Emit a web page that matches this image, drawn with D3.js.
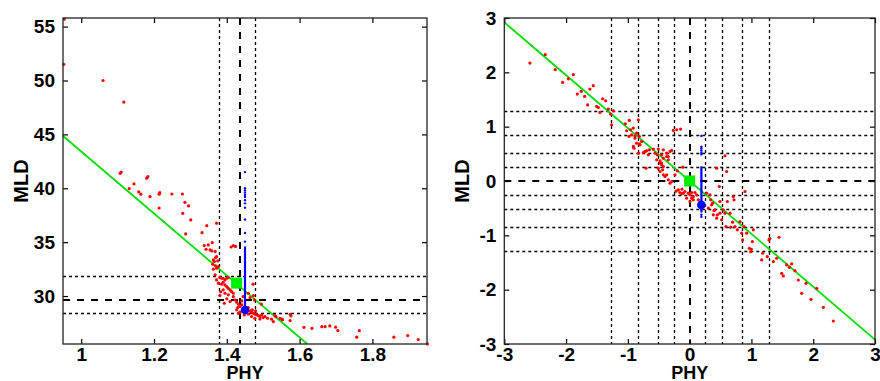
<!DOCTYPE html>
<html>
<head>
<meta charset="utf-8">
<script src="https://cdn.jsdelivr.net/npm/d3@7"></script>
<style>
  body { margin: 0; background: #fff; }
  svg text { font-family: "Liberation Sans", Arial, sans-serif; font-weight: bold; }
</style>
</head>
<body>
<div id="chart"></div>
<script>
// ---- left panel data (raw units) ----
var leftXTicks = [1, 1.2, 1.4, 1.6, 1.8];
var leftYTicks = [30, 35, 40, 45, 50, 55];
var leftPoints = [
  [0.954,55.7],[0.952,51.5],[1.06,50.0],[1.117,48.0],
  [1.107,41.39],[1.110,41.51],[1.145,40.40],[1.132,39.97],[1.158,39.66],[1.164,39.45],[1.180,40.93],[1.183,41.08],
  [1.189,39.22],[1.214,39.45],[1.216,39.59],[1.249,39.47],[1.278,39.47],[1.285,38.70],[1.295,38.36],[1.214,38.17],
  [1.279,37.68],[1.301,37.06],[1.287,35.76],[1.332,35.88],[1.345,36.53],[1.372,36.76],[1.338,34.68],[1.349,34.74],
  [1.360,34.96],[1.359,34.19],[1.343,34.34],[1.412,34.55],[1.418,34.68],[1.424,34.6],
  [1.354,34.28],[1.368,34.13],[1.369,33.57],[1.372,33.66],[1.363,33.35],[1.366,33.2],[1.375,33.26],[1.361,32.95],
  [1.369,32.8],[1.372,32.58],[1.377,32.73],[1.363,32.49],
  [1.368,31.96],[1.372,31.5],[1.381,31.71],[1.386,31.65],[1.390,31.65],[1.395,31.5],[1.400,31.65],[1.404,31.71],
  [1.377,31.19],[1.386,31.1],[1.390,31.28],[1.395,31.03],[1.400,30.88],[1.404,30.72],[1.409,30.57],[1.413,30.42],
  [1.418,30.26],[1.390,30.57],[1.395,30.26],[1.404,30.11],[1.400,29.74],[1.381,30.04],[1.393,29.33],[1.409,29.49],
  [1.418,29.95],[1.423,29.64],[1.427,29.43],[1.432,29.24],[1.430,28.93],[1.436,29.02],[1.441,29.18],[1.427,28.72],
  [1.432,28.41],[1.436,28.5],[1.459,30.26],[1.464,29.86],[1.473,30.04],[1.476,29.64],[1.459,28.93],[1.464,28.62],
  [1.468,28.5],[1.473,28.41],[1.477,28.31],[1.482,28.25],[1.487,28.19],[1.491,28.1],[1.496,28.25],[1.500,28.0],
  [1.505,28.1],[1.470,28.72],[1.479,28.62],[1.512,27.94],[1.532,28.19],[1.528,27.63],[1.546,27.94],[1.553,27.79],
  [1.574,28.31],[1.477,27.94],[1.468,28.1],[1.459,28.31],[1.491,27.88],[1.441,29.55],[1.445,29.95],[1.448,28.25],
  [1.383,30.4],[1.472,31.1],[1.495,29.26],
  [1.523,27.85],[1.535,28.09],[1.552,27.85],[1.574,27.72],[1.576,28.16],[1.612,27.1],[1.634,27.0],
  [1.661,27.16],[1.670,27.16],[1.683,27.23],[1.699,27.11],[1.705,26.79],[1.757,26.18],[1.764,26.79],[1.859,26.18],
  [1.897,26.33],[1.926,25.96],[1.951,25.56]
];
var leftDotted = {v: [1.379, 1.477], h: [31.9, 28.41]};
var leftDashed = {v: [1.436], h: [29.64]};
var leftFit = [[0.95, 44.85], [1.621, 25.55]];
var leftCentre = [1.427, 31.2];
var leftBlueX = 1.45;
var leftBlueDots = [41.5, 40.0, 39.8, 39.6, 39.4, 39.2, 38.9, 38.6, 38.2, 37.1, 35.85, 35.05];
var leftBlueRun = [34.6, 28.71];
var leftBlueEnd = 28.71;

// ---- right panel data (normal scores) ----
var rightTicks = [-3, -2, -1, 0, 1, 2, 3];
var rightPoints = [
  [-2.585,2.17],[-2.337,2.325],[-2.175,2.05],[-2.056,1.815],[-1.964,1.88],[-1.883,1.956],[-1.819,1.60],[-1.754,1.65],
  [-1.70,1.557],[-1.651,1.40],[-1.614,1.692],[-1.56,1.754],[-1.506,1.373],[-1.479,1.354],[-1.452,1.262],[-1.408,1.514],
  [-1.36,1.477],[-1.317,1.324],[-1.279,1.232],[-1.236,1.293],[-1.263,1.035],[-1.042,1.054],[-0.977,1.115],[-1.02,0.925],
  [-0.955,0.943],[-0.912,0.974],[-0.982,0.82],[-0.939,0.851],[-0.885,0.832],[-0.858,0.881],[-0.831,1.127],[-0.815,0.82],
  [-0.901,0.605],[-0.858,0.697],[-0.815,0.685],[-0.777,0.728],[-0.826,0.513],[-0.75,0.525],[-0.696,0.556],[-0.653,0.574],
  [-0.588,0.587],[-0.561,0.513],[-0.523,0.482],[-0.507,0.587],[-0.534,0.39],[-0.48,0.372],[-0.453,0.329],[-0.426,0.574],
  [-0.372,0.513],[-0.318,0.544],[-0.291,0.562],[-0.345,0.451],[-0.707,0.236],[-0.507,0.236],[-0.48,0.175],[-0.437,0.206],
  [-0.399,0.083],[-0.264,0.931],[-0.21,0.943],[-0.146,0.955],[-0.20,0.187],[-0.113,0.255],[-0.237,0.113],
  [-0.885,0.789],[-0.912,0.636],[-0.804,0.666],[-0.723,0.544],[-0.669,0.482],[-0.453,0.482],[-0.426,0.421],[-0.372,0.451],
  [-0.345,0.39],[-0.48,0.329],[-0.453,0.298],[-0.426,0.267],[-0.372,0.114],[-0.426,0.114],[-0.345,0.021],[-0.318,-0.04],
  [-0.291,-0.009],
  [-0.221,-0.187],[-0.124,-0.15],[-0.103,-0.224],[-0.076,-0.193],[-0.022,-0.224],[0.005,-0.255],[0.032,-0.212],
  [0.059,-0.286],[0.086,-0.212],[0.113,-0.255],[0.14,-0.347],[0.156,-0.47],[-0.183,-0.163],[-0.157,-0.212],[-0.13,-0.236],
  [0.032,-0.316],[0.059,-0.347],[-0.049,-0.316],[0.005,-0.378],
  [0.275,-0.224],[0.302,-0.5],[0.34,-0.347],[0.372,-0.408],[0.394,-0.543],[0.437,0.236],[0.48,-0.101],[0.491,-0.377],
  [0.448,-0.623],[0.518,-0.715],[0.545,-0.531],[0.572,0.464],[0.599,0.175],[0.572,-0.592],[0.61,-0.377],[0.653,-0.592],
  [0.588,-0.838],[0.664,-0.85],[0.707,-0.286],[0.718,-0.347],[0.696,-0.758],[0.734,-0.838],[0.772,-0.899],[0.815,-0.746],
  [0.842,-0.961],[0.858,-1.084],[0.896,-0.193],[0.88,-0.838],[0.923,-0.961],[0.966,-1.238],[0.988,-1.30],[1.015,-1.115],
  [1.031,-0.899],[0.998,-1.256],[0.329,-0.255],[0.356,-0.439],[0.41,-0.531],[0.383,-0.623],[0.437,-0.685],[0.491,-0.592],
  [1.284,-1.084],[1.298,-1.06],[1.182,-1.33],[1.257,-1.391],[1.166,-1.453],[1.355,-1.483],[1.408,-1.422],[1.446,-1.035],
  [1.489,-1.699],[1.516,-1.748],[1.57,-1.545],[1.614,-1.588],[1.651,-1.527],[1.705,-1.65],[1.759,-1.822],[1.813,-2.067],
  [1.883,-1.883],[1.964,-2.178],[2.056,-1.975],[2.164,-2.325],[2.326,-2.577]
];
var rightDotted = [-1.28, -0.84, -0.52, -0.255, 0.255, 0.52, 0.84, 1.28];
var rightDashed = [0];
var rightFit = [[-3, 2.92], [3, -2.92]];
var rightCentre = [0, 0];
var rightBlueX = 0.19;
var rightBlueDots = [0.83, 0.63, 0.6, 0.56, 0.52, 0.49, -0.62, -0.66];
var rightBlueRun = [0.27, -0.58];
var rightBlueEnd = -0.44;

var width = 880, height = 381;

var svg = d3.select("#chart").append("svg")
    .attr("width", width)
    .attr("height", height);

// snap a coordinate to a pixel centre so 1px rules stay crisp
function px(v) { return Math.round(v) + 0.5; }

function drawPanel(cfg) {
    var x = d3.scaleLinear().domain(cfg.xDomain).range([cfg.left, cfg.right]);
    var y = d3.scaleLinear().domain(cfg.yDomain).range([cfg.bottom, cfg.top]);
    var g = svg.append("g");

    var clipId = "clip" + cfg.id;
    g.append("clipPath").attr("id", clipId)
        .append("rect")
        .attr("x", cfg.left).attr("y", cfg.top)
        .attr("width", cfg.right - cfg.left).attr("height", cfg.bottom - cfg.top);

    var inner = g.append("g").attr("clip-path", "url(#" + clipId + ")");

    // reference lines (dotted = quantiles, dashed = centre)
    cfg.vDotted.forEach(function(v) {
        inner.append("line")
            .attr("x1", px(x(v))).attr("x2", px(x(v)))
            .attr("y1", cfg.top).attr("y2", cfg.bottom)
            .attr("stroke", "#000").attr("stroke-width", 1.3)
            .attr("stroke-dasharray", "3,3");
    });
    cfg.hDotted.forEach(function(v) {
        inner.append("line")
            .attr("x1", cfg.left).attr("x2", cfg.right)
            .attr("y1", px(y(v))).attr("y2", px(y(v)))
            .attr("stroke", "#000").attr("stroke-width", 1.3)
            .attr("stroke-dasharray", "3,3");
    });
    cfg.vDashed.forEach(function(v) {
        inner.append("line")
            .attr("x1", Math.round(x(v))).attr("x2", Math.round(x(v)))
            .attr("y1", cfg.top).attr("y2", cfg.bottom)
            .attr("stroke", "#000").attr("stroke-width", 2)
            .attr("stroke-dasharray", "7,7");
    });
    cfg.hDashed.forEach(function(v) {
        inner.append("line")
            .attr("x1", cfg.left).attr("x2", cfg.right)
            .attr("y1", Math.round(y(v))).attr("y2", Math.round(y(v)))
            .attr("stroke", "#000").attr("stroke-width", 2)
            .attr("stroke-dasharray", "7,7");
    });

    // regression line
    inner.append("path")
        .datum(cfg.fit)
        .attr("fill", "none")
        .attr("stroke", "#00dd00")
        .attr("stroke-width", 1.8)
        .attr("d", d3.line().x(function(d) { return x(d[0]); }).y(function(d) { return y(d[1]); }));

    // scatter
    g.append("g").selectAll("circle")
        .data(cfg.points)
        .enter().append("circle")
        .attr("cx", function(d) { return x(d[0]); })
        .attr("cy", function(d) { return y(d[1]); })
        .attr("r", 1.6)
        .attr("fill", "#ff0000");

    // centre square
    g.append("rect")
        .attr("x", x(cfg.centre[0]) - 5.5)
        .attr("y", y(cfg.centre[1]) - 5.5)
        .attr("width", 11).attr("height", 11)
        .attr("fill", "#00ee00");

    // blue trajectory
    g.append("line")
        .attr("x1", x(cfg.blueX)).attr("x2", x(cfg.blueX))
        .attr("y1", y(cfg.blueRun[0])).attr("y2", y(cfg.blueRun[1]))
        .attr("stroke", "#0000ff").attr("stroke-width", 2.2);
    g.append("g").selectAll("circle")
        .data(cfg.blueDots)
        .enter().append("circle")
        .attr("cx", x(cfg.blueX))
        .attr("cy", function(d) { return y(d); })
        .attr("r", 1.2)
        .attr("fill", "#0000ff");
    g.append("circle")
        .attr("cx", x(cfg.blueX)).attr("cy", y(cfg.blueEnd))
        .attr("r", 4.3)
        .attr("fill", "#0000ff");

    // axes with inward ticks on all four sides
    var fmt = function(d) { return String(d); };
    var axB = g.append("g").attr("transform", "translate(0," + cfg.bottom + ")")
        .call(d3.axisBottom(x).tickValues(cfg.xTicks).tickSize(-5).tickPadding(3).tickFormat(fmt));
    var axT = g.append("g").attr("transform", "translate(0," + cfg.top + ")")
        .call(d3.axisTop(x).tickValues(cfg.xTicks).tickSize(-5).tickFormat(""));
    var axL = g.append("g").attr("transform", "translate(" + cfg.left + ",0)")
        .call(d3.axisLeft(y).tickValues(cfg.yTicks).tickSize(-5).tickPadding(8).tickFormat(fmt));
    var axR = g.append("g").attr("transform", "translate(" + cfg.right + ",0)")
        .call(d3.axisRight(y).tickValues(cfg.yTicks).tickSize(-5).tickFormat(""));
    [axB, axT, axL, axR].forEach(function(a) {
        a.select(".domain").remove();
        a.selectAll(".tick line").attr("stroke", "#000").attr("stroke-width", 1.2);
        a.selectAll("text")
            .attr("fill", "#000")
            .style("font-size", "19px")
            .style("font-family", "'Liberation Sans', Arial, sans-serif")
            .style("font-weight", "bold");
    });

    // frame
    g.append("rect")
        .attr("x", cfg.left).attr("y", cfg.top)
        .attr("width", cfg.right - cfg.left).attr("height", cfg.bottom - cfg.top)
        .attr("fill", "none").attr("stroke", "#222").attr("stroke-width", 1.3);

    // axis titles
    g.append("text")
        .attr("x", (cfg.left + cfg.right) / 2)
        .attr("y", 379)
        .attr("text-anchor", "middle")
        .style("font-size", "18px")
        .text("PHY");
    g.append("text")
        .attr("transform", "translate(" + (cfg.left - 35) + "," + ((cfg.top + cfg.bottom) / 2) + ") rotate(-90)")
        .attr("text-anchor", "middle")
        .style("font-size", "20px")
        .text("MLD");
}

drawPanel({
    id: "L", left: 63, right: 427, top: 18, bottom: 344,
    xDomain: [0.95, 1.95], yDomain: [25.55, 55.8],
    xTicks: leftXTicks, yTicks: leftYTicks, points: leftPoints,
    vDotted: leftDotted.v, hDotted: leftDotted.h, vDashed: leftDashed.v, hDashed: leftDashed.h,
    fit: leftFit, centre: leftCentre,
    blueX: leftBlueX, blueDots: leftBlueDots, blueRun: leftBlueRun, blueEnd: leftBlueEnd
});

drawPanel({
    id: "R", left: 504.3, right: 875, top: 18, bottom: 344,
    xDomain: [-3, 3], yDomain: [-3, 3],
    xTicks: rightTicks, yTicks: rightTicks, points: rightPoints,
    vDotted: rightDotted, hDotted: rightDotted, vDashed: rightDashed, hDashed: rightDashed,
    fit: rightFit, centre: rightCentre,
    blueX: rightBlueX, blueDots: rightBlueDots, blueRun: rightBlueRun, blueEnd: rightBlueEnd
});
</script>
</body>
</html>
